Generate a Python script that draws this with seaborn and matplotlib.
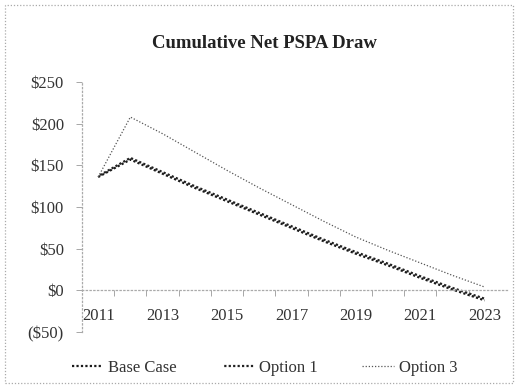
import numpy as np
import pandas as pd
import matplotlib
matplotlib.use("Agg")
import matplotlib.pyplot as plt
import seaborn as sns
from matplotlib.patches import Rectangle
from matplotlib.ticker import FuncFormatter, FixedLocator

years = [2011, 2012, 2013, 2014, 2015, 2016, 2017, 2018, 2019, 2020, 2021, 2022, 2023]
base_case = [136, 157, 140, 123, 107, 91, 75, 59, 44, 30, 15, 1, -12]
option_1 = [137, 159, 142, 125, 109, 93, 77, 61, 46, 32, 17, 3, -10]
option_3 = [136, 208, 188, 166, 144, 123, 103, 83, 64, 48, 33, 18, 4]
series_names = ["Base Case", "Option 1", "Option 3"]
x_ticks = [2011, 2013, 2015, 2017, 2019, 2021, 2023]
y_ticks = [-50, 0, 50, 100, 150, 200, 250]

df = pd.DataFrame({
    "Year": years * 3,
    "Value": base_case + option_1 + option_3,
    "Series": [series_names[0]] * len(years) + [series_names[1]] * len(years) + [series_names[2]] * len(years),
})

sns.set_theme(style="white")
plt.rcParams["font.family"] = ["Liberation Serif", "DejaVu Serif"]

fig = plt.figure(figsize=(5.16, 3.87), dpi=100)
fig.patch.set_facecolor("white")
ax = fig.add_axes([0.159, 0.142, 0.824, 0.646])

styles = {
    "Base Case": dict(color="#1a1a1a", lw=1.6, ls=(0, (1, 1))),
    "Option 1": dict(color="#222222", lw=1.6, ls=(1, (1, 1))),
    "Option 3": dict(color="#555555", lw=0.9, ls=(0, (1, 1.5))),
}
for name in series_names:
    st = styles[name]
    sns.lineplot(data=df[df["Series"] == name], x="Year", y="Value", ax=ax,
                 color=st["color"], linewidth=st["lw"], linestyle=st["ls"], label=name)

ax.set_xlim(2010.5, 2023.7)
ax.set_ylim(-50, 250)
ax.set_xticks(x_ticks)
ax.set_yticks(y_ticks)
ax.xaxis.set_minor_locator(FixedLocator([y + 0.5 for y in range(2011, 2023)]))
ax.yaxis.set_major_formatter(FuncFormatter(lambda v, p: f"(${abs(int(v))})" if v < 0 else f"${int(v)}"))
ax.set_xlabel("")
ax.set_ylabel("")

# category axis runs along the zero line
for s in ["top", "right"]:
    ax.spines[s].set_visible(False)
ax.spines["bottom"].set_position(("data", 0))
for s in ["left", "bottom"]:
    ax.spines[s].set_color("#aaaaaa")
    ax.spines[s].set_linestyle((0, (1, 2)))
    ax.spines[s].set_linewidth(0.9)

ax.tick_params(axis="y", which="major", left=True, length=4, width=0.6, color="#999999",
               labelsize=12, labelcolor="#333333", pad=9)
ax.tick_params(axis="x", which="major", bottom=False, labelsize=12, labelcolor="#333333", pad=7)
ax.tick_params(axis="x", which="minor", bottom=True, length=4, width=0.6, color="#999999")

fig.text(0.513, 0.888, "Cumulative Net PSPA Draw", ha="center", va="center",
         fontsize=13.5, fontweight="bold", color="#222222")

ax.get_legend().remove()
handles, labels = ax.get_legend_handles_labels()
leg = fig.legend(handles, labels, loc="center", bbox_to_anchor=(0.513, 0.049), ncol=3, frameon=False,
                 fontsize=12, handlelength=1.9, columnspacing=2.7, handletextpad=0.3)
for t in leg.get_texts():
    t.set_color("#333333")

fig.add_artist(Rectangle((0.01, 0.01), 0.985, 0.978, transform=fig.transFigure, fill=False,
                         edgecolor="#aaaaaa", lw=0.9, ls=(0, (1, 1.5))))

fig.savefig("out.png", dpi=100, facecolor="white")
